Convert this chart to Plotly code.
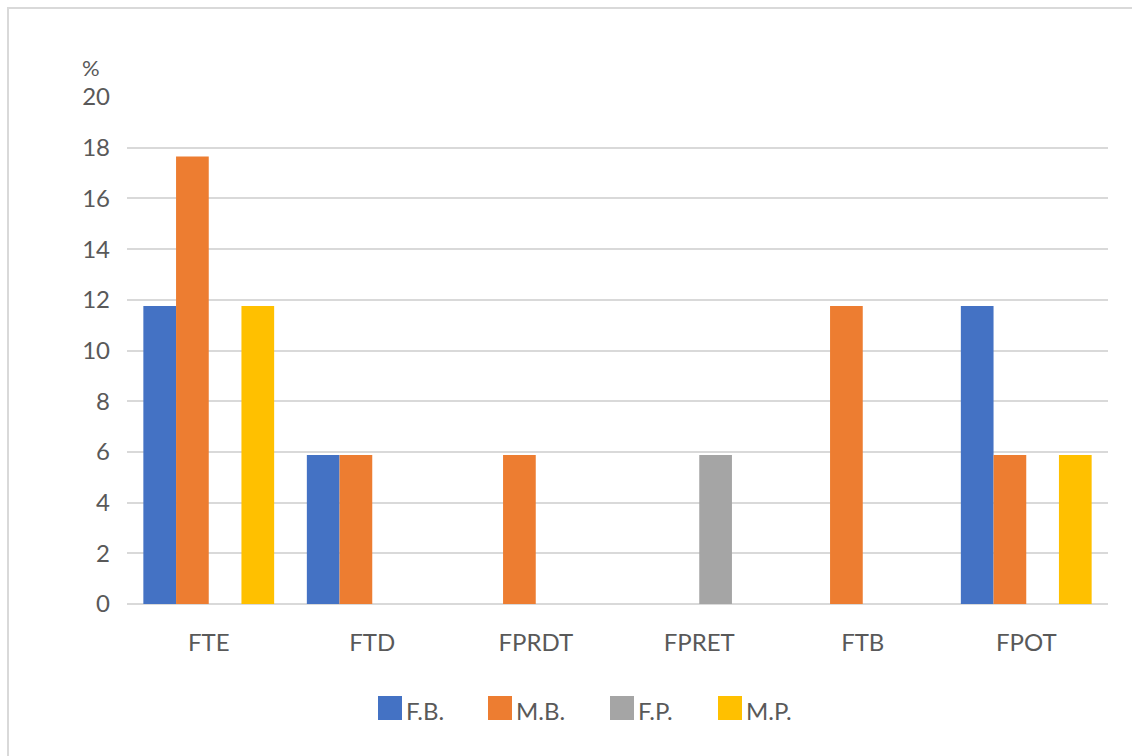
import plotly.graph_objects as go

categories = ["FTE", "FTD", "FPRDT", "FPRET", "FTB", "FPOT"]
series_names = ["F.B.", "M.B.", "F.P.", "M.P."]
fb = [11.76, 5.88, 0, 0, 0, 11.76]
mb = [17.65, 5.88, 5.88, 0, 11.76, 5.88]
fp = [0, 0, 0, 5.88, 0, 0]
mp = [11.76, 0, 0, 0, 0, 5.88]
colors = ["#4472C4", "#ED7D31", "#A5A5A5", "#FFC000"]
y_ticks = [0, 2, 4, 6, 8, 10, 12, 14, 16, 18, 20]

fig = go.Figure()
for name, vals, col in zip(series_names, [fb, mb, fp, mp], colors):
    fig.add_trace(go.Bar(x=categories, y=vals, name=name, marker_color=col,
                         marker_line_width=0))

txt = "#595959"
FONT = "Lato"
L, R, T, B = 127, 1108, 97, 604
W, H = R - L, B - T


def px(x):
    return (x - L) / W


def py(y):
    return (B - y) / H


fig.update_layout(
    width=1132, height=756,
    margin=dict(l=L, r=1132 - R, t=T, b=756 - B),
    paper_bgcolor="white", plot_bgcolor="white",
    barmode="group", bargap=0.2, bargroupgap=0,
    font=dict(family=FONT, size=24, color=txt),
    xaxis=dict(showgrid=False, showline=False, ticks="", ticklabelstandoff=22,
               tickfont=dict(family=FONT, size=24, color=txt)),
    yaxis=dict(range=[0, 20], tickvals=y_ticks, showgrid=True, gridcolor="#d9d9d9", gridwidth=1.5,
               zeroline=True, zerolinecolor="#d9d9d9", zerolinewidth=1.5,
               showline=False, ticks="", ticklabelstandoff=16,
               tickfont=dict(family=FONT, size=24, color=txt)),
    showlegend=False,
)
fig.add_annotation(text="%", xref="paper", yref="paper", x=px(101), y=py(82), showarrow=False,
                   xanchor="right", yanchor="bottom", font=dict(family=FONT, size=22, color=txt),
                   borderpad=0)
# border of chart area
fig.add_shape(type="rect", xref="paper", yref="paper", x0=px(8), x1=px(1145), y0=py(765), y1=py(8),
              line=dict(color="#d9d9d9", width=2), layer="below")
# manual legend
leg_x = [378, 488, 610, 718]
for name, col, x0 in zip(series_names, colors, leg_x):
    fig.add_shape(type="rect", xref="paper", yref="paper", x0=px(x0), x1=px(x0 + 24),
                  y0=py(720), y1=py(696), line=dict(width=0), fillcolor=col)
    fig.add_annotation(text=name, xref="paper", yref="paper", x=px(x0 + 26), y=py(710),
                       showarrow=False, xanchor="left", yanchor="middle",
                       font=dict(family=FONT, size=24, color=txt))
fig.write_html("out.html")
